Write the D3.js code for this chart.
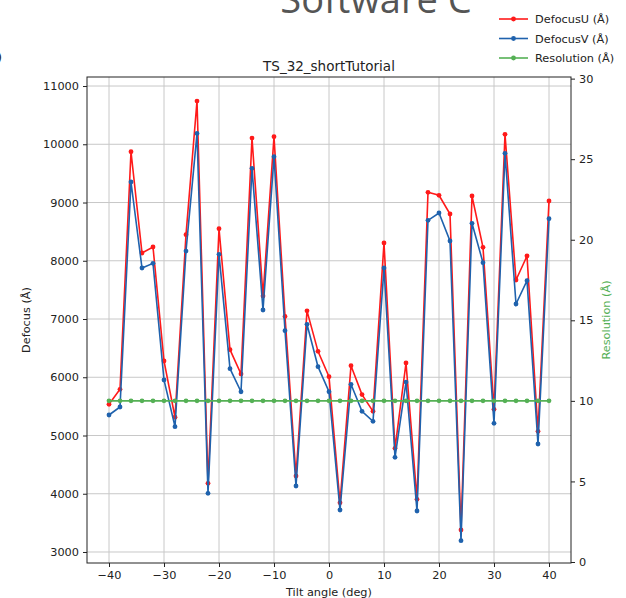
<!DOCTYPE html>
<html><head><meta charset="utf-8">
<script src="https://cdn.jsdelivr.net/npm/d3@7"></script>
<style>body{margin:0;background:#fff;}svg{display:block;}</style>
</head><body>
<script>
const tilt = [-40,-38,-36,-34,-32,-30,-28,-26,-24,-22,-20,-18,-16,-14,-12,-10,-8,-6,-4,-2,0,2,4,6,8,10,12,14,16,18,20,22,24,26,28,30,32,34,36,38,40];
const defocusU = [5536,5793,9872,8133,8236,6279,5313,8448,10742,4179,8551,6473,6056,10107,7395,10130,7045,4305,7140,6445,6010,3847,6199,5702,5415,8305,4780,6245,3905,9175,9124,8803,3378,9112,8231,5450,10170,7670,8082,5072,9026];
const defocusV = [5352,5489,9352,7876,7956,5953,5152,8167,10187,4008,8110,6147,5751,9587,7155,9787,6800,4133,6909,6182,5751,3721,5879,5415,5243,7876,4626,5918,3704,8694,8820,8339,3195,8643,7967,5209,9845,7258,7658,4854,8722];
const resolution = tilt.map(() => 10);
const xTicks = [-40,-30,-20,-10,0,10,20,30,40];
const yTicks = [3000,4000,5000,6000,7000,8000,9000,10000,11000];
const y2Ticks = [0,5,10,15,20,25,30];
const seriesNames = ["DefocusU (Å)","DefocusV (Å)","Resolution (Å)"];
const colors = ["#ff1a1a","#1f62ad","#55b055"];

const W=626,H=598;
const m={l:87,r:571,t:77,b:563};
const svg=d3.select("body").append("svg").attr("width",W).attr("height",H);
const font="DejaVu Sans, sans-serif";

const x=d3.scaleLinear().domain([-44,44]).range([m.l,m.r]);
const y=d3.scaleLinear().domain([2811,11155]).range([m.b,m.t]);
const y2=d3.scaleLinear().domain([0,30.1]).range([m.b-1,m.t]);

// cropped header text
svg.append("text").attr("x",376).attr("y",13).attr("text-anchor","middle")
  .attr("font-family","Open Sans, sans-serif").attr("font-size",38).attr("fill","#555")
  .text("Software C");
svg.append("text").attr("x",-3).attr("y",62).attr("font-family",font).attr("font-size",13).attr("fill","#222").text(")");

// grid
const g=svg.append("g");
xTicks.forEach(t=>g.append("line").attr("x1",x(t)).attr("x2",x(t)).attr("y1",m.t).attr("y2",m.b).attr("stroke","#c8c8c8").attr("stroke-width",1));
yTicks.forEach(t=>g.append("line").attr("x1",m.l).attr("x2",m.r).attr("y1",y(t)).attr("y2",y(t)).attr("stroke","#c8c8c8").attr("stroke-width",1));

// axes
const ax=svg.append("g").attr("transform",`translate(0,${m.b})`).call(d3.axisBottom(x).tickValues(xTicks).tickSize(4).tickPadding(4).tickFormat(d=>d<0?"\u2212"+(-d):d));
const ay=svg.append("g").attr("transform",`translate(${m.l},0)`).call(d3.axisLeft(y).tickValues(yTicks).tickSize(4).tickPadding(4).tickFormat(d3.format("d")));
const ay2=svg.append("g").attr("transform",`translate(${m.r},0)`).call(d3.axisRight(y2).tickValues(y2Ticks).tickSize(4).tickPadding(4));
[ax,ay,ay2].forEach(a=>{a.selectAll("text").attr("font-family",font).attr("font-size",11.3).attr("fill","#222");a.select(".domain").remove();a.selectAll(".tick line").attr("stroke","#222");});
svg.append("rect").attr("x",m.l).attr("y",m.t).attr("width",m.r-m.l).attr("height",m.b-m.t).attr("fill","none").attr("stroke","#222").attr("stroke-width",1);

// series
function drawSeries(vals,sc,col){
  const line=d3.line().x((d,i)=>x(tilt[i])).y(d=>sc(d));
  svg.append("path").datum(vals).attr("d",line).attr("fill","none").attr("stroke",col).attr("stroke-width",1.6);
  svg.append("g").selectAll("circle").data(vals).join("circle").attr("cx",(d,i)=>x(tilt[i])).attr("cy",d=>sc(d)).attr("r",2.4).attr("fill",col);
}
drawSeries(defocusU,y,colors[0]);
drawSeries(defocusV,y,colors[1]);
drawSeries(resolution,y2,colors[2]);

// labels
svg.append("text").attr("x",(m.l+m.r)/2).attr("y",71).attr("text-anchor","middle").attr("font-family",font).attr("font-size",13.5).attr("fill","#222").text("TS_32_shortTutorial");
svg.append("text").attr("x",(m.l+m.r)/2).attr("y",596).attr("text-anchor","middle").attr("font-family",font).attr("font-size",11.3).attr("fill","#222").text("Tilt angle (deg)");
svg.append("text").attr("transform",`translate(30,${(m.t+m.b)/2}) rotate(-90)`).attr("text-anchor","middle").attr("font-family",font).attr("font-size",11.3).attr("fill","#222").text("Defocus (Å)");
svg.append("text").attr("transform",`translate(610,${(m.t+m.b)/2}) rotate(-90)`).attr("text-anchor","middle").attr("font-family",font).attr("font-size",11.3).attr("fill",colors[2]).text("Resolution (Å)");

// legend
seriesNames.forEach((n,i)=>{
  const ly=19+i*19.5;
  svg.append("line").attr("x1",499).attr("x2",528).attr("y1",ly).attr("y2",ly).attr("stroke",colors[i]).attr("stroke-width",1.6);
  svg.append("circle").attr("cx",513.5).attr("cy",ly).attr("r",2.4).attr("fill",colors[i]);
  svg.append("text").attr("x",535).attr("y",ly+4).attr("font-family",font).attr("font-size",11.3).attr("fill","#222").text(n);
});
</script>
</body></html>
